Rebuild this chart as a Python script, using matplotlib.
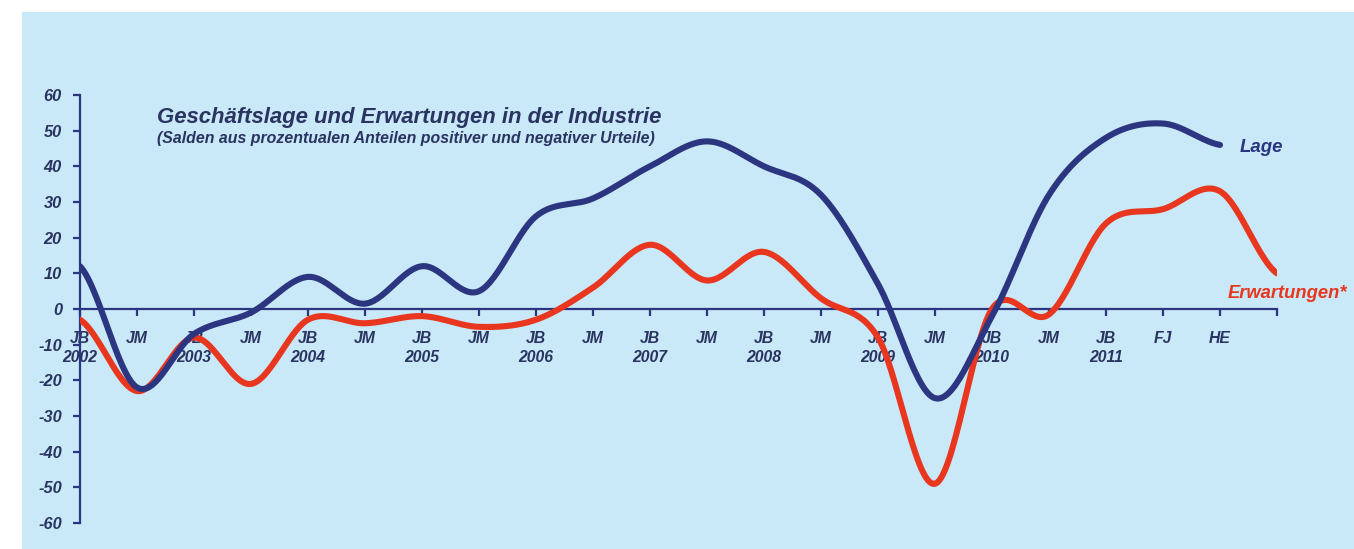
import matplotlib
matplotlib.use("Agg")
import matplotlib.pyplot as plt
import numpy as np

# categories along the x axis (half-year surveys)
labels = ["JB\n2002", "JM", "JB\n2003", "JM", "JB\n2004", "JM", "JB\n2005", "JM",
          "JB\n2006", "JM", "JB\n2007", "JM", "JB\n2008", "JM", "JB\n2009", "JM",
          "JB\n2010", "JM", "JB\n2011", "FJ", "HE", ""]

# Geschäftslage (ends at HE)
lage = [12, -22, -7, -1, 9, 1.5, 12, 5, 26, 31, 40, 47, 40, 32, 7, -25, -2, 32, 48, 52, 46]
# Erwartungen (one more point)
erwartungen = [-3, -23, -8, -21, -3, -4, -2, -5, -3, 6, 18, 8, 16, 3, -8, -49, 0, -1.5, 24, 28, 33, 10]

NAVY = "#2b3580"
RED = "#e8361f"
TXT = "#2a3460"
BG = "#c9e8f8"


def smooth(vals, steps=30):
    # Catmull-Rom curve through the points, like Excel's smoothed line
    v = np.asarray(vals, dtype=float)
    n = len(v)
    xs, ys = [], []
    for i in range(n - 1):
        p0 = v[i - 1] if i > 0 else v[i]
        p1, p2 = v[i], v[i + 1]
        p3 = v[i + 2] if i + 2 < n else v[i + 1]
        t = np.linspace(0, 1, steps, endpoint=False)
        y = 0.5 * ((2 * p1) + (-p0 + p2) * t + (2 * p0 - 5 * p1 + 4 * p2 - p3) * t ** 2
                   + (-p0 + 3 * p1 - 3 * p2 + p3) * t ** 3)
        xs.append(i + t)
        ys.append(y)
    xs.append([n - 1])
    ys.append([v[-1]])
    return np.concatenate(xs), np.concatenate(ys)


W, H = 1354, 549
fig = plt.figure(figsize=(W / 100, H / 100), dpi=100)
fig.patch.set_facecolor("white")
fig.patches.append(plt.Rectangle((22 / W, 0), 1 - 22 / W, 1 - 12 / H,
                                 transform=fig.transFigure, facecolor=BG,
                                 edgecolor="none", zorder=-10))

ax = fig.add_axes([80 / W, (H - 523) / H, (1277 - 80) / W, (523 - 95) / H])
ax.set_facecolor("none")
ax.set_zorder(5)

x1, y1 = smooth(lage)
x2, y2 = smooth(erwartungen)
ax.plot(x2, y2, color=RED, lw=4.4, solid_capstyle="round", zorder=3)
ax.plot(x1, y1, color=NAVY, lw=4.4, solid_capstyle="round", zorder=4)

ax.set_xlim(0, 21)
ax.set_ylim(-60, 60)

for s in ["top", "right"]:
    ax.spines[s].set_visible(False)
ax.spines["left"].set_color(NAVY)
ax.spines["left"].set_linewidth(1.6)
ax.spines["bottom"].set_color(NAVY)
ax.spines["bottom"].set_linewidth(1.6)
ax.spines["bottom"].set_position(("data", 0))

font = dict(family="Liberation Sans", weight="bold", style="italic")

ax.set_yticks(range(-60, 61, 10))
ax.set_yticklabels([str(v) for v in range(-60, 61, 10)], color=TXT, fontsize=11.8, **font)
ax.tick_params(axis="y", direction="out", length=5, width=1.6, color=NAVY, pad=8)

ax.set_xticks(range(len(labels)))
ax.set_xticklabels(labels, color=TXT, fontsize=11.3, linespacing=1.3, **font)
ax.tick_params(axis="x", direction="out", length=5, width=1.6, color=NAVY, pad=11)

fig.text(157 / W, 1 - 117 / H, "Geschäftslage und Erwartungen in der Industrie",
         color=TXT, fontsize=15.9, va="center", ha="left", **font)
fig.text(157 / W, 1 - 139 / H,
         "(Salden aus prozentualen Anteilen positiver und negativer Urteile)",
         color=TXT, fontsize=11.4, va="center", ha="left", **font)

fig.text(1240 / W, 1 - 148 / H, "Lage", color=NAVY, fontsize=13.4,
         va="center", ha="left", **font)
fig.text(1347 / W, 1 - 294 / H, "Erwartungen*", color=RED, fontsize=13.2,
         va="center", ha="right", **font)

fig.savefig("out.png", dpi=100)
